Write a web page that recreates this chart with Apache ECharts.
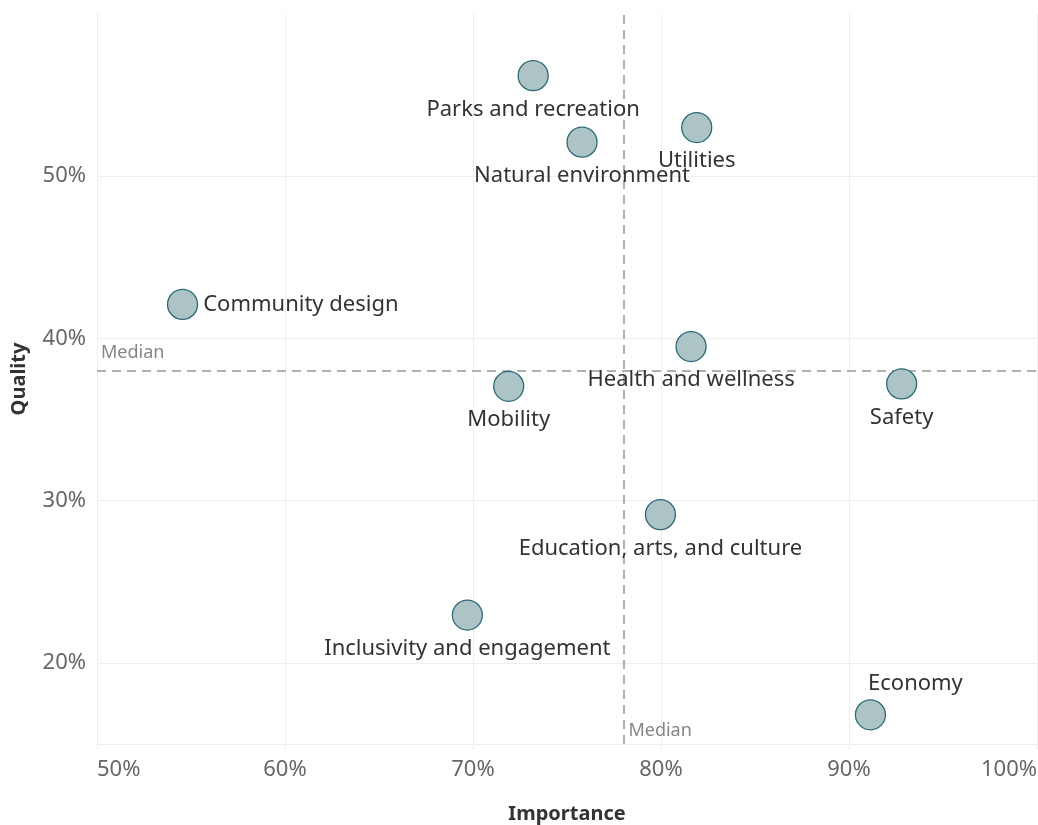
<!DOCTYPE html>
<html><head><meta charset="utf-8">
<script src="https://cdn.jsdelivr.net/npm/echarts@6/dist/echarts.min.js"></script>
<style>html,body{margin:0;padding:0;background:#fff}#c{width:1038px;height:825px}</style>
</head><body><div id="c"></div>
<script>
const categories = ["Parks and recreation","Natural environment","Utilities","Community design","Health and wellness","Mobility","Safety","Education, arts, and culture","Inclusivity and engagement","Economy"];
const importance = [0.732,0.758,0.819,0.5455,0.816,0.719,0.928,0.7997,0.697,0.9114];
const quality    = [0.562,0.521,0.530,0.421,0.395,0.3705,0.372,0.2914,0.2295,0.168];
const labelPos   = ["bottom","bottom","bottom","right","bottom","bottom","bottom","bottom","bottom","top"];
const medianImportance = 0.78;
const medianQuality = 0.383;
const xTicks = [0.5,0.6,0.7,0.8,0.9,1.0];
const yTicks = [0.2,0.3,0.4,0.5];

const FONT = "Noto Sans";
const pct = v => Math.round(v*100) + "%";

const pts = categories.map((c,i) => {
  const d = {name:c, value:[importance[i], quality[i]], label:{position:labelPos[i]}};
  if (labelPos[i] === 'right') d.label.distance = 5;
  if (c === 'Economy') { d.label.offset = [45, 0]; d.label.distance = 4; }
  return d;
});

const chart = echarts.init(document.getElementById('c'), null, {renderer:'canvas'});
chart.setOption({
  animation:false,
  textStyle:{fontFamily:FONT},
  grid:{left:97, right:1, top:14, bottom:81, containLabel:false, outerBoundsMode:'none'},
  xAxis:{
    type:'value', min:0.5, max:1.0, interval:0.1,
    name:'Importance', nameLocation:'middle', nameGap:60,
    nameTextStyle:{fontFamily:FONT, fontWeight:'bold', fontSize:20, color:'#333'},
    axisLine:{show:true, lineStyle:{color:'#eeeeee', width:1}},
    axisTick:{show:true, length:6, lineStyle:{color:'#eeeeee'}},
    splitLine:{show:true, lineStyle:{color:'#eeeeee', width:1}},
    axisLabel:{formatter:pct, fontFamily:FONT, fontSize:22, color:'#666', margin:15, alignMinLabel:'left', alignMaxLabel:'right'}
  },
  yAxis:{
    type:'value', min:0.15, max:0.6,
    name:'Quality', nameLocation:'middle', nameGap:68, nameRotate:90,
    nameTextStyle:{fontFamily:FONT, fontWeight:'bold', fontSize:20, color:'#333'},
    axisLine:{show:true, lineStyle:{color:'#eeeeee', width:1}},
    axisTick:{show:false, customValues:yTicks},
    splitLine:{show:true, lineStyle:{color:'#eeeeee', width:1}},
    axisLabel:{formatter:pct, fontFamily:FONT, fontSize:22, color:'#666', margin:11, customValues:yTicks}
  },
  series:[
    {
      type:'scatter', symbolSize:30, z:5,
      itemStyle:{color:'#adc4c7', borderColor:'#2e6a76', borderWidth:1.3, opacity:1},
      label:{show:true, formatter:'{b}', fontFamily:FONT, fontSize:22, color:'#333', distance:7},
      data:pts,
      markLine:{
        silent:true, symbol:'none', z:3,
        lineStyle:{color:'#b0b0b0', type:[9,6], width:2},
        label:{show:false},
        data:[{xAxis:medianImportance},{yAxis:medianQuality}]
      }
    },
    {
      type:'scatter', symbolSize:0, silent:true, z:4,
      label:{show:true, formatter:'Median', fontFamily:FONT, fontSize:18, color:'#666', align:'left', verticalAlign:'middle'},
      data:[
        {value:[medianImportance, 0.15], label:{position:[5,-13]}},
        {value:[0.5, medianQuality], label:{position:[4,-13]}}
      ]
    }
  ]
});
</script></body></html>
